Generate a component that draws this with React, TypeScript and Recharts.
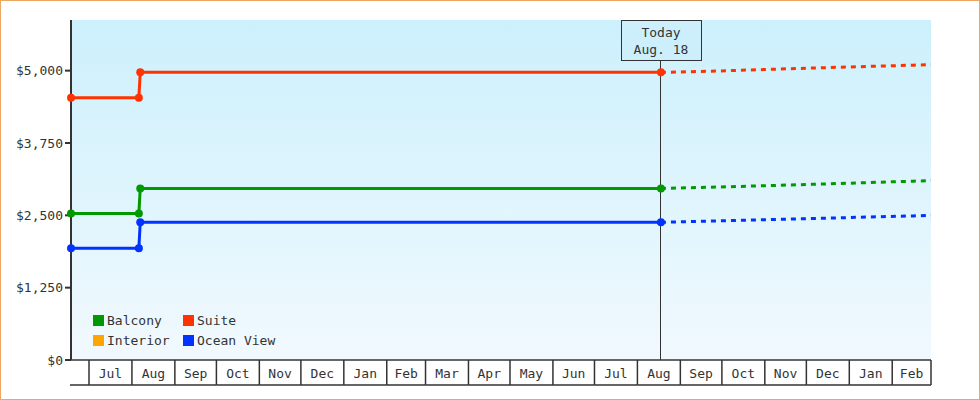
import React from 'react';
import { LineChart, Line, XAxis, YAxis, CartesianGrid, ReferenceLine } from 'recharts';

const FONT = '"DejaVu Sans Mono", monospace';
const INK = '#333333';

// series, in legend order (row by row)
const seriesNames = ['Balcony', 'Suite', 'Interior', 'Ocean View'];
const seriesColors = ['#009900', '#ff3300', '#ffa500', '#0033ff'];

// recorded prices
const historyDates = ['2017-06-18', '2017-08-06', '2017-08-07', '2018-08-18'];
const balconyHistory = [2530, 2530, 2965, 2965];
const suiteHistory = [4530, 4530, 4970, 4970];
const interiorHistory: number[] = [];
const oceanViewHistory = [1930, 1930, 2380, 2380];

// projected prices (dashed)
const forecastDates = ['2018-08-18', '2018-09-23', '2018-12-05', '2019-02-16', '2019-03-01'];
const balconyForecast = [2965, 2985, 3035, 3090, 3100];
const suiteForecast = [4970, 4990, 5045, 5095, 5105];
const interiorForecast: number[] = [];
const oceanViewForecast = [2380, 2400, 2445, 2490, 2500];

const monthStarts = [
  '2017-07-01', '2017-08-01', '2017-09-01', '2017-10-01', '2017-11-01', '2017-12-01',
  '2018-01-01', '2018-02-01', '2018-03-01', '2018-04-01', '2018-05-01', '2018-06-01',
  '2018-07-01', '2018-08-01', '2018-09-01', '2018-10-01', '2018-11-01', '2018-12-01',
  '2019-01-01', '2019-02-01',
];
const monthLabels = [
  'Jul', 'Aug', 'Sep', 'Oct', 'Nov', 'Dec', 'Jan', 'Feb', 'Mar', 'Apr', 'May', 'Jun',
  'Jul', 'Aug', 'Sep', 'Oct', 'Nov', 'Dec', 'Jan', 'Feb',
];
const yTicks = [0, 1250, 2500, 3750, 5000];

const START = '2017-06-18';
const END = '2019-03-01';
const TODAY = '2018-08-18';
const TODAY_LINES = ['Today', 'Aug. 18'];

const toDay = (s: string) => {
  const [y, m, d] = s.split('-').map(Number);
  return Date.UTC(y, m - 1, d) / 86400000;
};

const startDay = toDay(START);
const endDay = toDay(END);
const todayDay = toDay(TODAY);
const xTicks = [startDay, ...monthStarts.map(toDay)];

// layout
const W = 980;
const H = 400;
const MARGIN = { top: 20, right: 49, bottom: 15, left: 0 };
const Y_AXIS_W = 71;
const X_AXIS_H = 25;
const pxPerDay = (W - MARGIN.right - MARGIN.left - Y_AXIS_W) / (endDay - startDay);

const zip = (dates: string[], values: number[]) =>
  values.map((v, i) => ({ t: toDay(dates[i]), v }));

const histories = [balconyHistory, suiteHistory, interiorHistory, oceanViewHistory];
const forecasts = [balconyForecast, suiteForecast, interiorForecast, oceanViewForecast];

const series = seriesNames.map((name, i) => ({
  name,
  color: seriesColors[i],
  history: zip(historyDates, histories[i]),
  forecast: zip(forecastDates, forecasts[i]),
}));

const money = (n: number) => '$' + n.toLocaleString('en-US');

// month cell under the plot: divider, label, bottom rule
function MonthCell(props: any) {
  const { x, y, payload } = props;
  const i = xTicks.indexOf(payload.value);
  const next = i + 1 < xTicks.length ? xTicks[i + 1] : endDay;
  const w = (next - payload.value) * pxPerDay;
  const bottom = y + X_AXIS_H;
  const isLast = i === xTicks.length - 1;
  return (
    <g>
      <line x1={x - (i === 0 ? 1 : 0)} x2={x + w} y1={bottom} y2={bottom} stroke={INK} strokeWidth={1.5} />
      {i > 0 && <line x1={x} x2={x} y1={y} y2={bottom} stroke={INK} strokeWidth={1.5} />}
      {isLast && <line x1={x + w} x2={x + w} y1={y} y2={bottom} stroke={INK} strokeWidth={1.5} />}
      {i > 0 && (
        <text x={x + w / 2} y={y + 18} textAnchor='middle' fontFamily={FONT} fontSize={13} fill={INK}>
          {monthLabels[i - 1]}
        </text>
      )}
    </g>
  );
}

function TodayBox(props: any) {
  const { viewBox } = props;
  const cx = Math.round(viewBox.x);
  const top = viewBox.y;
  return (
    <g>
      <rect x={cx - 39.5} y={top + 0.5} width={80} height={40} fill='#cdeffc' stroke={INK} strokeWidth={1} />
      <text x={cx} y={top + 17} textAnchor='middle' fontFamily={FONT} fontSize={13} fill={INK}>
        {TODAY_LINES[0]}
      </text>
      <text x={cx} y={top + 34} textAnchor='middle' fontFamily={FONT} fontSize={13} fill={INK}>
        {TODAY_LINES[1]}
      </text>
    </g>
  );
}

export default function App() {
  return (
    <div style={{ position: 'relative', width: W, height: H, fontFamily: FONT, background: '#fff' }}>
      <style>{'body{margin:0}'}</style>
      <svg width={0} height={0} style={{ position: 'absolute' }}>
        <defs>
          <linearGradient id='plotBg' x1='0' y1='0' x2='0' y2='1'>
            <stop offset='0%' stopColor='#ccf0fc' />
            <stop offset='100%' stopColor='#f1f9fe' />
          </linearGradient>
        </defs>
      </svg>

      <LineChart width={W} height={H} margin={MARGIN}>
        <CartesianGrid horizontal={false} vertical={false} fill='url(#plotBg)' fillOpacity={1} />
        <XAxis
          type='number'
          dataKey='t'
          domain={[startDay, endDay]}
          ticks={xTicks}
          interval={0}
          tick={<MonthCell />}
          tickLine={false}
          tickSize={0}
          tickMargin={0}
          axisLine={{ stroke: INK, strokeWidth: 1.5 }}
          height={X_AXIS_H}
        />
        <YAxis
          type='number'
          domain={[0, 5875]}
          ticks={yTicks}
          interval={0}
          width={Y_AXIS_W}
          tickFormatter={money}
          tick={{ fontFamily: FONT, fontSize: 13, fill: INK }}
          tickLine={{ stroke: INK, strokeWidth: 2 }}
          tickSize={6}
          tickMargin={2}
          axisLine={{ stroke: INK, strokeWidth: 2 }}
        />
        <ReferenceLine
          x={todayDay}
          stroke={INK}
          strokeWidth={1}
          shapeRendering='crispEdges'
          label={<TodayBox />}
        />

        {series.map((s) => (
          <Line
            key={s.name + '-forecast'}
            data={s.forecast}
            dataKey='v'
            name={s.name}
            type='linear'
            stroke={s.color}
            strokeWidth={3}
            strokeDasharray='5 5'
            dot={false}
            activeDot={false}
            isAnimationActive={false}
          />
        ))}
        {series.map((s) => (
          <Line
            key={s.name + '-history'}
            data={s.history}
            dataKey='v'
            name={s.name}
            type='linear'
            stroke={s.color}
            strokeWidth={3}
            dot={{ r: 4, fill: s.color, stroke: s.color, strokeWidth: 0 }}
            activeDot={false}
            isAnimationActive={false}
          />
        ))}
      </LineChart>

      {/* legend, 2 x 2, inside the plot */}
      <div
        style={{
          position: 'absolute',
          left: 93,
          top: 310,
          display: 'grid',
          gridTemplateColumns: '90px 110px',
          gridAutoRows: '20px',
          fontSize: 13,
          color: INK,
        }}
      >
        {seriesNames.map((name, i) => (
          <div key={name} style={{ display: 'flex', alignItems: 'center', whiteSpace: 'nowrap' }}>
            <span
              style={{ display: 'inline-block', width: 11, height: 11, background: seriesColors[i], marginRight: 3 }}
            />
            {name}
          </div>
        ))}
      </div>

      <div
        style={{
          position: 'absolute',
          inset: 0,
          border: '1px solid #eaa863',
          boxSizing: 'border-box',
          pointerEvents: 'none',
        }}
      />
    </div>
  );
}
